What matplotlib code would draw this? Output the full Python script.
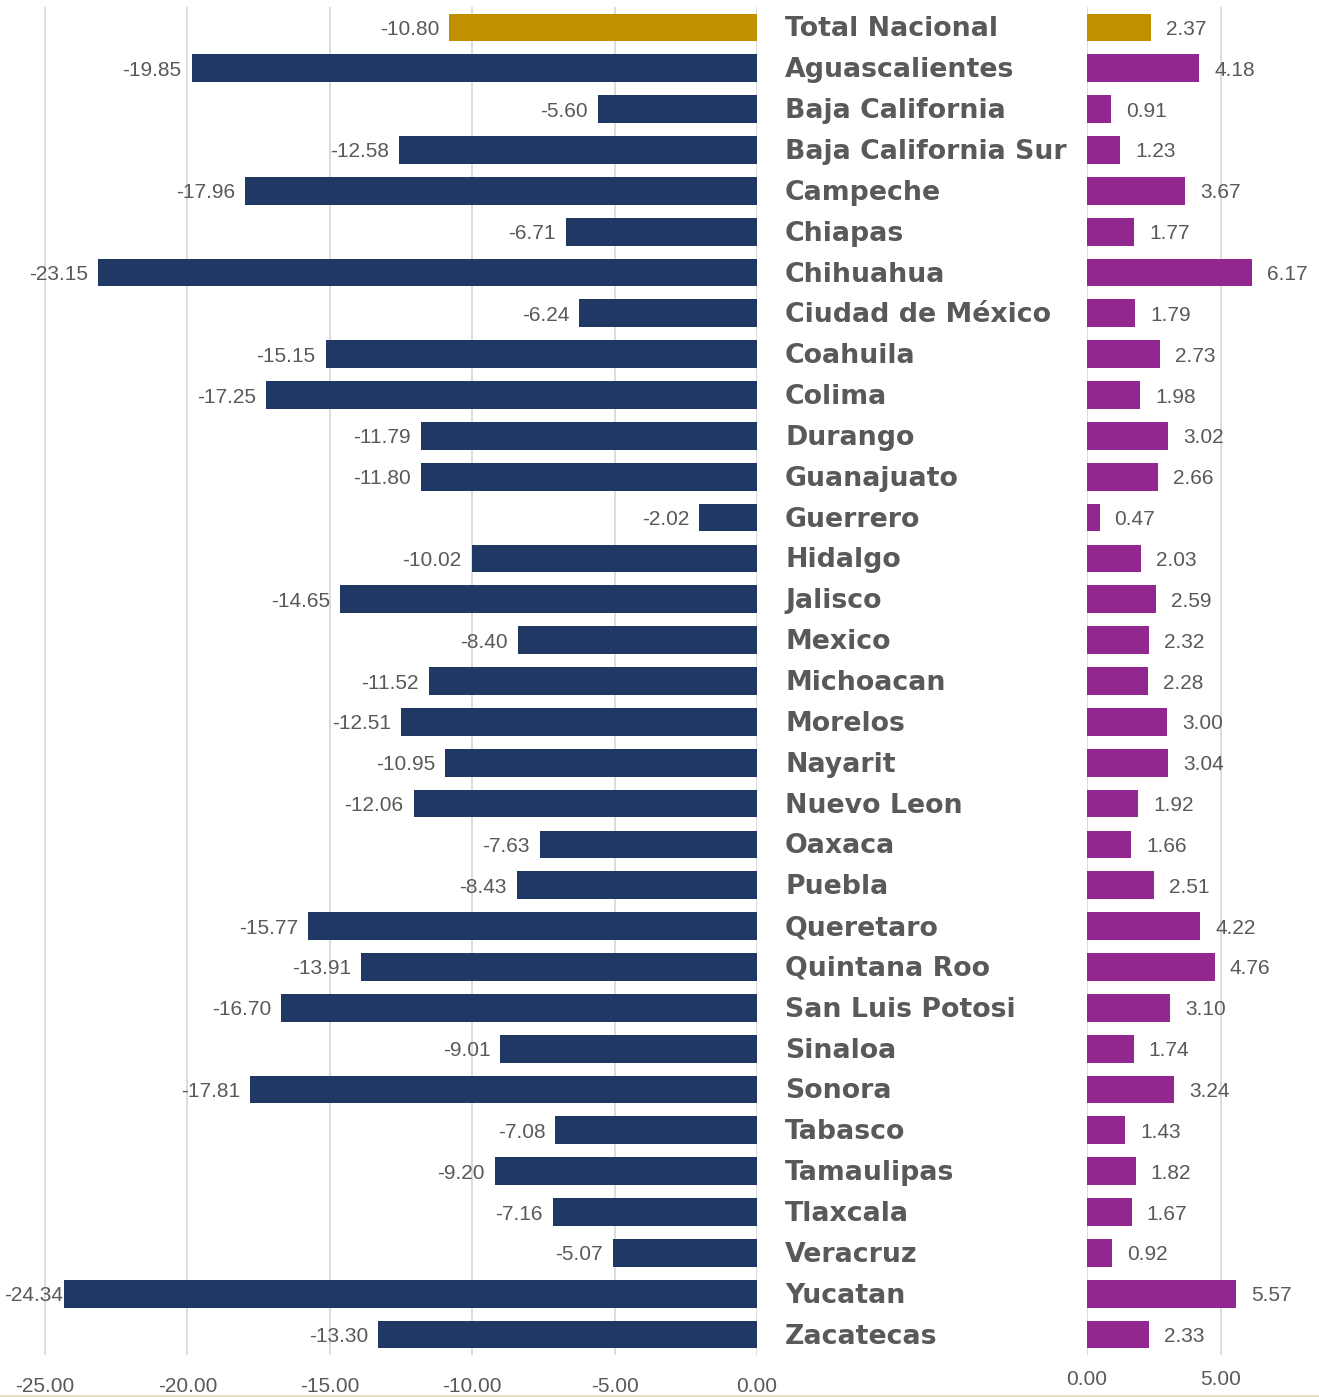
import matplotlib
matplotlib.use("Agg")
import matplotlib.pyplot as plt
import matplotlib.transforms as mtransforms

states = ["Total Nacional", "Aguascalientes", "Baja California", "Baja California Sur",
          "Campeche", "Chiapas", "Chihuahua", "Ciudad de México", "Coahuila", "Colima",
          "Durango", "Guanajuato", "Guerrero", "Hidalgo", "Jalisco", "Mexico", "Michoacan",
          "Morelos", "Nayarit", "Nuevo Leon", "Oaxaca", "Puebla", "Queretaro",
          "Quintana Roo", "San Luis Potosi", "Sinaloa", "Sonora", "Tabasco", "Tamaulipas",
          "Tlaxcala", "Veracruz", "Yucatan", "Zacatecas"]
left_values = [-10.80, -19.85, -5.60, -12.58, -17.96, -6.71, -23.15, -6.24, -15.15, -17.25,
               -11.79, -11.80, -2.02, -10.02, -14.65, -8.40, -11.52, -12.51, -10.95, -12.06,
               -7.63, -8.43, -15.77, -13.91, -16.70, -9.01, -17.81, -7.08, -9.20, -7.16,
               -5.07, -24.34, -13.30]
right_values = [2.37, 4.18, 0.91, 1.23, 3.67, 1.77, 6.17, 1.79, 2.73, 1.98, 3.02, 2.66, 0.47,
                2.03, 2.59, 2.32, 2.28, 3.00, 3.04, 1.92, 1.66, 2.51, 4.22, 4.76, 3.10, 1.74,
                3.24, 1.43, 1.82, 1.67, 0.92, 5.57, 2.33]
left_ticks = [-25, -20, -15, -10, -5, 0]
right_ticks = [0, 5]

NAVY = "#203864"
GOLD = "#BF9000"
PURPLE = "#92278F"
GRAY = "#595959"
GRID = "#D9D9D9"
num_font = ["Liberation Sans", "DejaVu Sans"]

W, H = 1319, 1397
fig = plt.figure(figsize=(W / 100, H / 100), dpi=100)
fig.patch.set_facecolor("white")

top_px, bot_px = 7, 1355
axL = fig.add_axes([0, 1 - bot_px / H, 757 / W, (bot_px - top_px) / H])
axR = fig.add_axes([1087 / W, 1 - bot_px / H, (W - 1087) / W, (bot_px - top_px) / H])

n = len(states)
ypos = list(range(n))
left_colors = [GOLD] + [NAVY] * (n - 1)
right_colors = [GOLD] + [PURPLE] * (n - 1)

axL.barh(ypos, left_values, height=0.68, color=left_colors, zorder=3)
axR.barh(ypos, right_values, height=0.68, color=right_colors, zorder=3)

for ax in (axL, axR):
    ax.set_ylim(n - 0.5, -0.5)
    ax.set_yticks([])
    for s in ax.spines.values():
        s.set_visible(False)
    ax.set_facecolor("none")
    ax.grid(axis="x", color=GRID, linewidth=1.3, zorder=0)
    ax.tick_params(axis="x", length=0, colors=GRAY, labelsize=15)

xminL = -26.58
axL.set_xlim(xminL, 0)
axL.set_xticks(left_ticks)
axL.set_xticklabels([f"{t:.2f}" for t in left_ticks], fontfamily=num_font)
axL.tick_params(axis="x", pad=16)
axR.set_xlim(0, (W - 1087) / 26.8)
axR.set_xticks(right_ticks)
axR.set_xticklabels([f"{t:.2f}" for t in right_ticks], fontfamily=num_font)
axR.tick_params(axis="x", pad=11)

px_per_unit = 757 / (-xminL)
offL = mtransforms.offset_copy(axL.transData, fig=fig, x=-10, y=-2, units="dots")
edge_tr = mtransforms.blended_transform_factory(fig.transFigure, axL.transData)
edge_off = mtransforms.offset_copy(edge_tr, fig=fig, x=0, y=-2, units="dots")
for y, v in zip(ypos, left_values):
    bar_end_px = (v - xminL) * px_per_unit
    if bar_end_px < 70:
        axL.text(4 / W, y, f"{v:.2f}", transform=edge_off, ha="left", va="center",
                 fontsize=15, color=GRAY, fontfamily=num_font, zorder=4, clip_on=False)
    else:
        axL.text(v, y, f"{v:.2f}", transform=offL, ha="right", va="center",
                 fontsize=15, color=GRAY, fontfamily=num_font, zorder=4, clip_on=False)

offR = mtransforms.offset_copy(axR.transData, fig=fig, x=15, y=-2, units="dots")
for y, v in zip(ypos, right_values):
    axR.text(v, y, f"{v:.2f}", transform=offR, ha="left", va="center",
             fontsize=15, color=GRAY, fontfamily=num_font, zorder=4, clip_on=False)

lab_tr = mtransforms.offset_copy(
    mtransforms.blended_transform_factory(fig.transFigure, axL.transData),
    fig=fig, x=0, y=-2, units="dots")
for y, name in zip(ypos, states):
    axL.text(785 / W, y, name, transform=lab_tr, ha="left", va="center",
             fontsize=19.3, fontweight="bold", color=GRAY, fontfamily="DejaVu Sans",
             clip_on=False)

fig.add_artist(plt.Line2D([0, 1], [1.5 / H, 1.5 / H], color="#E8DCC0", linewidth=2,
                          transform=fig.transFigure))

fig.savefig("out.png", dpi=100, facecolor="white")
